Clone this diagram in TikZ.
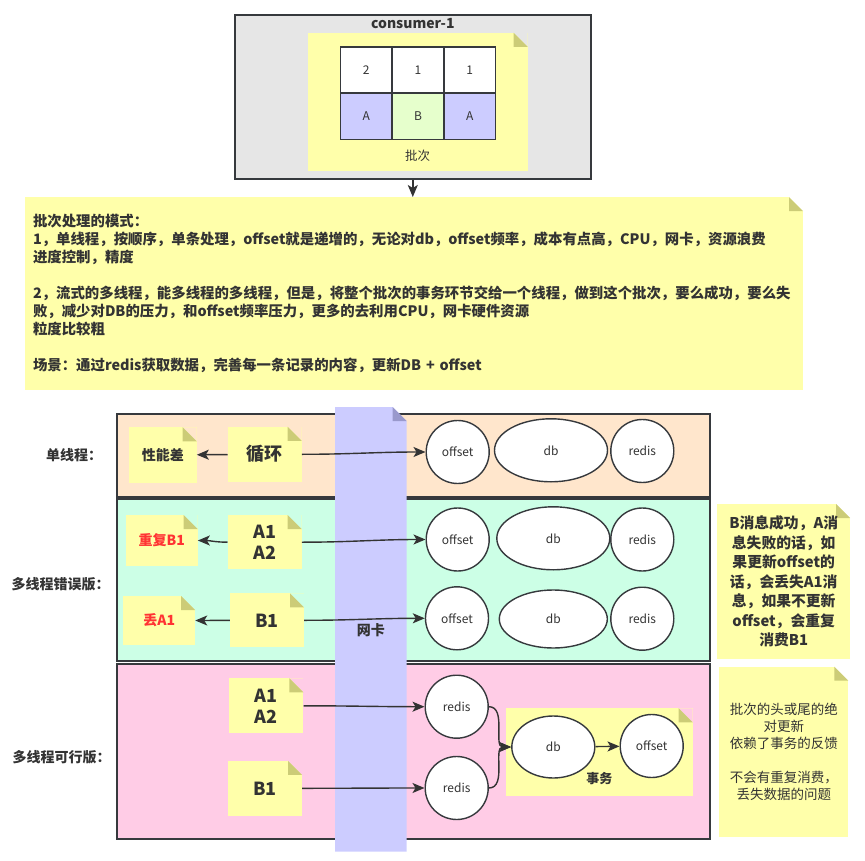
\documentclass[tikz,border=0pt]{standalone}
\usepackage{fontspec}
\setmainfont{Noto Sans CJK SC}
\usetikzlibrary{shapes.geometric,arrows.meta}

\definecolor{notey}{HTML}{FFFFAA}
\definecolor{foldy}{HTML}{CCCC77}
\definecolor{lav}{HTML}{CCCCFF}
\definecolor{lavfold}{HTML}{9999CC}
\definecolor{peach}{HTML}{FFE6CC}
\definecolor{mint}{HTML}{CCFFE6}
\definecolor{pinky}{HTML}{FFCCE6}
\definecolor{greyb}{HTML}{E6E6E6}
\definecolor{cellB}{HTML}{E6FFCC}
\definecolor{bord}{HTML}{36393D}
\definecolor{txt}{HTML}{333333}
\definecolor{alert}{HTML}{FF3333}

\newcommand\fld{14pt}

\tikzset{
  note/.style={fill=notey, text=txt, inner sep=0pt, align=center,
    path picture={
      \fill[#1] ([xshift=-\fld]path picture bounding box.north east) -- (path picture bounding box.north east) -- ([yshift=-\fld]path picture bounding box.north east) -- cycle;
      \fill[foldy] ([xshift=-\fld]path picture bounding box.north east) -- ([xshift=-\fld,yshift=-\fld]path picture bounding box.north east) -- ([yshift=-\fld]path picture bounding box.north east) -- cycle;
    }},
  note/.default=white,
  box/.style={draw=bord, line width=1.5pt, inner sep=0pt},
  row/.style={draw=bord, line width=1.8pt, inner sep=0pt, minimum width=593pt},
  cell/.style={draw=bord, line width=1.5pt, fill=white, text=txt, minimum width=51.7pt, minimum height=46.3pt, font=\fontsize{12pt}{14pt}\selectfont},
  ell/.style={ellipse, draw=bord, line width=1.4pt, fill=white, text=txt, inner sep=0pt, minimum width=63pt, minimum height=63pt, font=\fontsize{12pt}{14pt}\selectfont},
  lbl/.style={text=txt, font=\fontsize{14pt}{16pt}\selectfont\bfseries},
  big/.style={font=\fontsize{18pt}{21pt}\selectfont\bfseries},
  mid/.style={font=\fontsize{14pt}{16pt}\selectfont\bfseries},
  arr/.style={draw=txt, line width=1.4pt, -{Stealth[length=12pt,width=10pt,inset=3pt]}},
}

\begin{document}
\begin{tikzpicture}[x=1pt,y=-1pt]
\useasboundingbox (0,0) rectangle (865,861);

% consumer and its batch
\node[box, fill=greyb, minimum width=356pt, minimum height=164pt] (cons) at (412.8,97) {};
\node[text=txt, font=\fontsize{14pt}{16pt}\selectfont\bfseries] (constitle) at (412.8,24) {consumer-1};
\node[note=greyb, minimum width=220pt, minimum height=138pt] (batch) at (417.7,101.8) {};
\foreach \hi/\lo/\col [count=\i] in {2/A/lav, 1/B/cellB, 1/A/lav} {
  \node[cell] (t\i) at (314.6+51.7*\i,70) {\hi};
  \node[cell, fill=\col] (b\i) at (314.6+51.7*\i,116.3) {\lo};
}
\node[text=txt, font=\fontsize{12.5pt}{14pt}\selectfont] (batchlbl) at (417.7,155.7) {批次};

% modes
\node[note, text width=762pt, inner xsep=8pt, minimum height=193pt, align=left,
  font=\fontsize{14.4pt}{18pt}\selectfont\bfseries] (bignote) at (414,293.7) {%
批次处理的模式：\\
1，单线程，按顺序，单条处理，offset就是递增的，无论对db，offset频率，成本有点高，CPU，网卡，资源浪费\\
进度控制，精度\\[18pt]
2，流式的多线程，能多线程的多线程，但是，将整个批次的事务环节交给一个线程，做到这个批次，要么成功，要么失\\
败，减少对DB的压力，和offset频率压力，更多的去利用CPU，网卡硬件资源\\
粒度比较粗\\[18pt]
场景：通过redis获取数据，完善每一条记录的内容，更新DB + offset};
\draw[arr] (cons.south) -- (cons.south |- bignote.north);

% rows
\node[row, fill=peach, minimum height=82.7pt] (row1) at (413.4,455.4) {};
\node[row, fill=mint, minimum height=161.7pt] (row2) at (413.4,580.2) {};
\node[row, fill=pinky, minimum height=175pt] (row3) at (413.4,751.5) {};
\node[lbl] (lab1) at (74,455) {单线程：};
\node[lbl] (lab2) at (60.7,584) {多线程错误版：};
\node[lbl] (lab3) at (61.7,757) {多线程可行版：};

% network card
\fill[lav] (335,407) -- (392.7,407) -- (406.7,421) -- (406.7,851.7) -- (335,851.7) -- cycle;
\fill[lavfold] (392.7,407) -- (392.7,421) -- (406.7,421) -- cycle;
\node[lbl] (nic) at (370.8,630) {网卡};

% single thread
\node[note=peach, minimum width=67.7pt, minimum height=55.4pt, lbl] (slow) at (162.8,455) {性能差};
\node[note=peach, minimum width=74pt, minimum height=54.7pt, big] (loop) at (264.7,454.3) {循环};
\node[ell] (off1) at (457.7,452) {offset};
\node[ell, minimum width=113pt] (db1) at (551,450.3) {db};
\node[ell] (red1) at (642.3,451) {redis};
\draw[arr] (loop) -- (slow);
\draw[arr] (loop.east) to[out=0,in=180] (off1.west);

% multi thread, wrong
\node[note=mint, minimum width=71.7pt, minimum height=51pt, mid, text=alert] (dupB) at (161.8,540.5) {重复B1};
\node[note=mint, minimum width=74pt, minimum height=54.3pt, big] (a12) at (264.7,542.2) {A1\\A2};
\node[note=mint, minimum width=71.7pt, minimum height=49pt, mid, text=alert] (lostA) at (159.2,620.5) {丢A1};
\node[note=mint, minimum width=74pt, minimum height=54pt, big] (b1) at (267,620.3) {B1};
\node[ell] (off2) at (457.7,539.5) {offset};
\node[ell, minimum width=113pt] (db2) at (553.3,538.3) {db};
\node[ell] (red2) at (642.3,539.5) {redis};
\node[ell] (off3) at (457,618.3) {offset};
\node[ell, minimum width=108pt, minimum height=58pt] (db3) at (553.3,619) {db};
\node[ell] (red3) at (642.3,618.7) {redis};
\draw[arr] (a12.west) to[out=180,in=0] (dupB.east);
\draw[arr] (a12.east) to[out=0,in=180] (off2.west);
\draw[arr] (b1.west) to[out=180,in=0] (lostA.east);
\draw[arr] (b1.east) to[out=0,in=180] (off3.west);

% multi thread, right
\node[note=pinky, minimum width=74.3pt, minimum height=55pt, big] (a12ok) at (266.2,705.8) {A1\\A2};
\node[note=pinky, minimum width=74pt, minimum height=54.7pt, big] (b1ok) at (265,788.3) {B1};
\node[ell] (redA) at (456.7,706.7) {redis};
\node[ell] (redB) at (456.7,788) {redis};
\node[note=pinky, minimum width=186.7pt, minimum height=87.7pt] (txn) at (599.3,752.2) {};
\node[ell, minimum width=83pt, minimum height=62pt] (dbok) at (553.3,747) {db};
\node[ell] (offok) at (651.7,746) {offset};
\node[text=txt, font=\fontsize{13pt}{15pt}\selectfont\bfseries] (txnlbl) at (599.3,778.3) {事务};
\draw[arr] (a12ok.east) to[out=0,in=180] (redA.west);
\draw[arr] (b1ok.east) to[out=0,in=180] (redB.west);
\draw[arr] (redA.east) to[out=0,in=180] (dbok.west);
\draw[arr] (redB.east) to[out=0,in=180] (dbok.west);
\draw[arr] (dbok) -- (offok);

% side notes
\node[note, minimum width=132.7pt, minimum height=155.3pt, font=\fontsize{14.8pt}{19.5pt}\selectfont\bfseries] (why) at (783.7,581.7) {B消息成功，A消\\息失败的话，如\\果更新offset的\\话，会丢失A1消\\息，如果不更新\\offset，会重复\\消费B1};
\node[note, minimum width=129pt, minimum height=170pt, font=\fontsize{13.5pt}{17pt}\selectfont] (ok) at (783.8,751.7) {批次的头或尾的绝\\对更新\\依赖了事务的反馈\\[17pt]不会有重复消费，\\丢失数据的问题};
\end{tikzpicture}
\end{document}
